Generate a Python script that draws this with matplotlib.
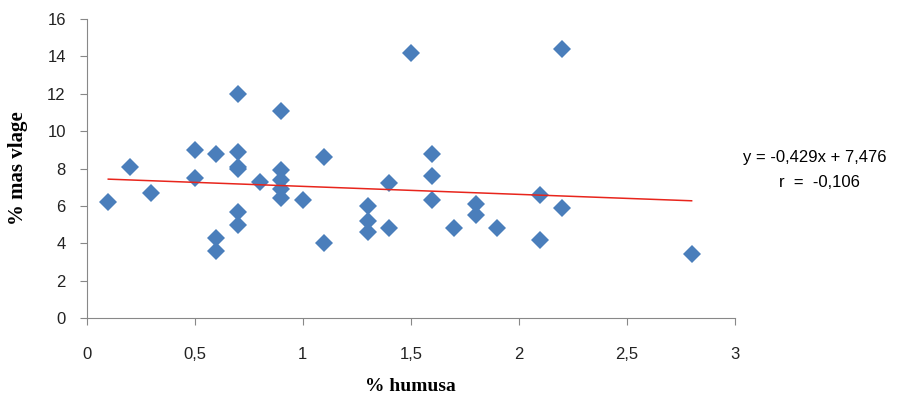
import matplotlib
matplotlib.use("Agg")
import matplotlib.pyplot as plt
from matplotlib.ticker import FuncFormatter

# % humus vs % moisture
humus = [0.1, 0.2, 0.3, 0.5, 0.5, 0.6, 0.6, 0.6,
         0.7, 0.7, 0.7, 0.7, 0.7, 0.7, 0.8,
         0.9, 0.9, 0.9, 0.9, 0.9, 1.0, 1.1, 1.1,
         1.3, 1.3, 1.3, 1.4, 1.4, 1.5, 1.6, 1.6, 1.6,
         1.7, 1.8, 1.8, 1.9, 2.1, 2.1, 2.2, 2.2, 2.8]
vlaga = [6.2, 8.1, 6.7, 9.0, 7.5, 8.8, 4.3, 3.6,
         12.0, 8.9, 8.1, 8.0, 5.7, 5.0, 7.3,
         11.1, 7.9, 7.4, 6.9, 6.4, 6.3, 8.6, 4.0,
         6.0, 5.2, 4.6, 7.2, 4.8, 14.2, 8.8, 7.6, 6.3,
         4.8, 6.1, 5.5, 4.8, 6.6, 4.2, 14.4, 5.9, 3.4]
slope = -0.429
intercept = 7.476
r_value = -0.106

fig = plt.figure(figsize=(9.22, 3.98), dpi=100)
ax = fig.add_axes([0.094, 0.201, 0.703, 0.751])

ax.plot(humus, vlaga, 'D', color='#4a7ebb', markersize=9.5, markeredgewidth=0)
xl = [min(humus), max(humus)]
ax.plot(xl, [slope * v + intercept for v in xl], color='#e8251c', lw=1.1)

ax.set_xlim(0, 3)
ax.set_ylim(0, 16)
ax.set_xticks([0, 0.5, 1, 1.5, 2, 2.5, 3])
ax.set_yticks(range(0, 17, 2))
ax.xaxis.set_major_formatter(FuncFormatter(lambda v, p: ('%g' % v).replace('.', ',')))
for s in ['top', 'right']:
    ax.spines[s].set_visible(False)
for s in ['left', 'bottom']:
    ax.spines[s].set_color('#888888')
ax.tick_params(colors='#888888', labelcolor='#222222', labelsize=12, length=5, direction='out')
ax.tick_params(axis='x', pad=16)
ax.tick_params(axis='y', pad=10)
for lab in ax.get_xticklabels() + ax.get_yticklabels():
    lab.set_family('Liberation Sans')

ax.set_ylabel('% mas vlage', family='Liberation Serif', weight='bold', fontsize=15, labelpad=14)
fig.text(0.4455, 0.028, '% humusa', family='Liberation Serif', weight='bold', fontsize=14,
         ha='center', va='center')

fig.text(0.884, 0.605, 'y = %s' % ('%.3fx + %.3f' % (slope, intercept)).replace('.', ','),
         ha='center', va='center', fontsize=12, family='Liberation Sans')
fig.text(0.889, 0.542, 'r  =  %s' % ('%.3f' % r_value).replace('.', ','),
         ha='center', va='center', fontsize=12, family='Liberation Sans')

plt.savefig("out.png", dpi=100)
